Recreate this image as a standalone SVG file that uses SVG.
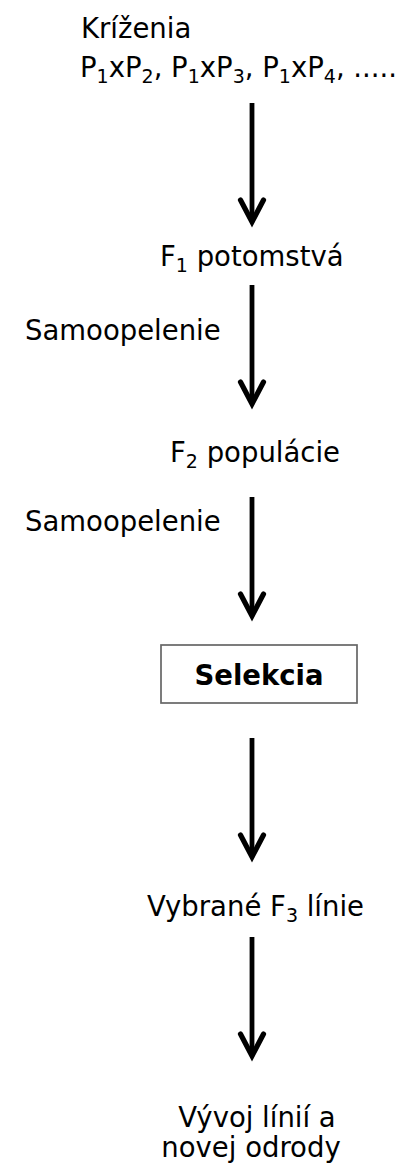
<svg xmlns="http://www.w3.org/2000/svg" xmlns:xlink="http://www.w3.org/1999/xlink" width="408" height="1173" viewBox="0 0 408 1173">
<style>
text{font-family:"DejaVu Sans","Liberation Sans",sans-serif;font-size:27.5px;fill:#000}
.sub{font-size:19px}
.b{font-weight:bold}
.shaft{stroke:#000;stroke-width:4.8;fill:none}
.head{stroke:#000;stroke-width:5.2;fill:none;stroke-linejoin:miter;stroke-miterlimit:10;stroke-linecap:round}
.box{fill:#fff;stroke:#666;stroke-width:1.7}
</style>
<defs>
<g id="arrow">
<line class="shaft" x1="0" y1="0" x2="0" y2="116"/>
<path class="head" d="M-11.5,97 L0,119 L11.5,97"/>
</g>
</defs>
<rect width="408" height="1173" fill="#fff"/>
<g id="connectors">
<use xlink:href="#arrow" x="252" y="103"/>
<use xlink:href="#arrow" x="252" y="285"/>
<use xlink:href="#arrow" x="252" y="497"/>
<use xlink:href="#arrow" x="252" y="738"/>
<use xlink:href="#arrow" x="252" y="937"/>
</g>
<g id="krizenia">
<text x="81" y="38">Kríženia</text>
<text x="80" y="77">P<tspan class="sub" dy="6">1</tspan><tspan dy="-6">xP</tspan><tspan class="sub" dy="6">2</tspan><tspan dy="-6">, P</tspan><tspan class="sub" dy="6">1</tspan><tspan dy="-6">xP</tspan><tspan class="sub" dy="6">3</tspan><tspan dy="-6">, P</tspan><tspan class="sub" dy="6">1</tspan><tspan dy="-6">xP</tspan><tspan class="sub" dy="6">4</tspan><tspan dy="-6">, .....</tspan></text>
</g>
<g id="f1">
<text x="160" y="266">F<tspan class="sub" dy="6">1</tspan><tspan dy="-6"> potomstvá</tspan></text>
</g>
<g id="samo1">
<text x="25" y="340">Samoopelenie</text>
</g>
<g id="f2">
<text x="170" y="462">F<tspan class="sub" dy="6">2</tspan><tspan dy="-6"> populácie</tspan></text>
</g>
<g id="samo2">
<text x="25" y="531">Samoopelenie</text>
</g>
<g id="selekcia">
<rect class="box" x="161" y="645" width="196" height="58"/>
<text class="b" x="259" y="685" text-anchor="middle">Selekcia</text>
</g>
<g id="f3">
<text x="147" y="916">Vybrané F<tspan class="sub" dy="6">3</tspan><tspan dy="-6"> línie</tspan></text>
</g>
<g id="vyvoj">
<text x="257" y="1127" text-anchor="middle">Vývoj línií a</text>
<text x="251" y="1157" text-anchor="middle">novej odrody</text>
</g>
</svg>
